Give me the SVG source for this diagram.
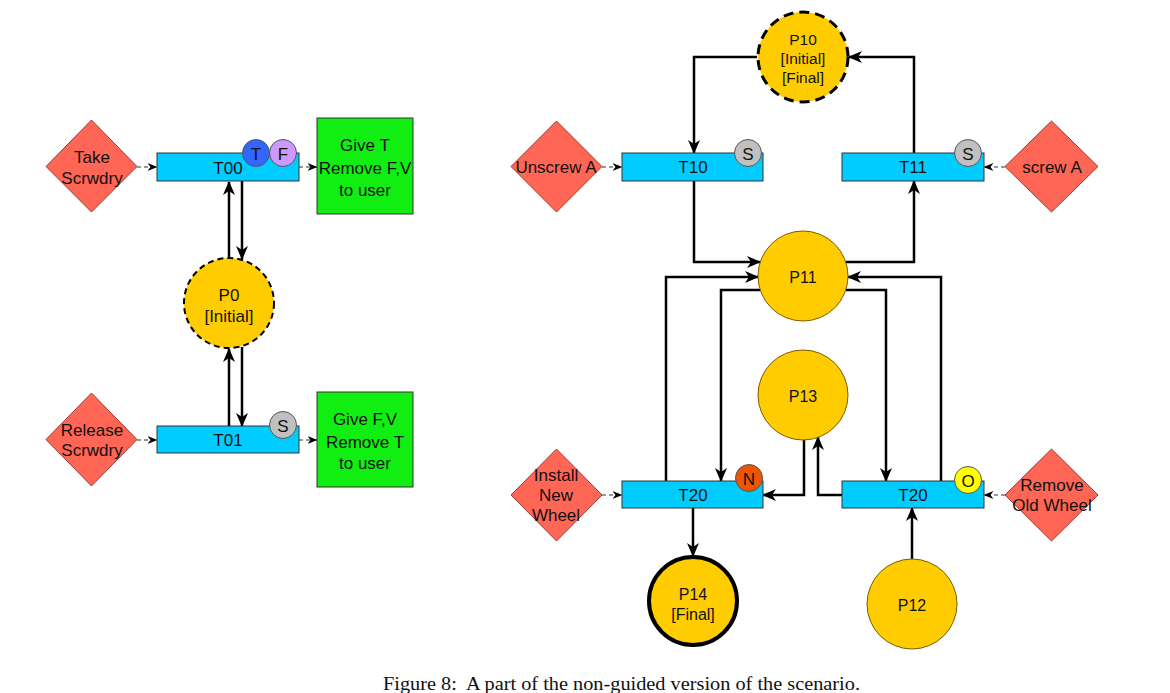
<svg xmlns="http://www.w3.org/2000/svg" width="1170" height="693" viewBox="0 0 1170 693">
<defs>
<marker id="ah" markerUnits="userSpaceOnUse" markerWidth="14" markerHeight="14" viewBox="0 0 14 14" refX="13" refY="7" orient="auto">
<path d="M0,1 L14,7 L0,13 L4,7 z" fill="#000"/>
</marker>
<marker id="ahs" markerUnits="userSpaceOnUse" markerWidth="10" markerHeight="10" viewBox="0 0 10 10" refX="9.5" refY="5" orient="auto">
<path d="M0,1 L10,5 L0,9 L3,5 z" fill="#000"/>
</marker>
</defs>
<style>
text{font-family:"Liberation Sans",Arial,sans-serif;fill:#111;text-anchor:middle;dominant-baseline:central}
.tr{fill:#00CCFF;stroke:#333;stroke-width:1}
.dm{fill:#FF6655;stroke:#9a3a30;stroke-width:1}
.gb{fill:#11EE11;stroke:#333;stroke-width:1}
.pl{fill:#FFCC00;stroke:#7a5c00;stroke-width:1}
.tk{stroke:#555;stroke-width:1}
.c{fill:none;stroke:#000;stroke-width:2.5;marker-end:url(#ah)}
.d{fill:none;stroke:#777;stroke-width:1.5;stroke-dasharray:4 3;marker-end:url(#ahs)}
.f17{font-size:17px}
.f16{font-size:16px}
.f15{font-size:15.5px}
.tt{font-size:17px}
</style>
<rect width="1170" height="693" fill="#fff"/>

<g id="connectors">
<line class="d" x1="137" y1="167" x2="157" y2="167"/>
<line class="d" x1="299" y1="167" x2="317" y2="167"/>
<line class="c" x1="229" y1="258" x2="229" y2="182"/>
<line class="c" x1="242" y1="181" x2="242" y2="259"/>
<line class="c" x1="229" y1="426" x2="229" y2="349"/>
<line class="c" x1="242" y1="347" x2="242" y2="426"/>
<line class="d" x1="137" y1="440" x2="157" y2="440"/>
<line class="d" x1="299" y1="440" x2="317" y2="440"/>

<path class="c" d="M757,57 H694 V153"/>
<path class="c" d="M914,153 V57 H849"/>
<line class="d" x1="602" y1="167" x2="622" y2="167"/>
<line class="d" x1="1005" y1="167" x2="984" y2="167"/>
<path class="c" d="M694,181 V262 H760"/>
<path class="c" d="M846,262 H914 V181"/>
<path class="c" d="M666,481 V277 H758"/>
<path class="c" d="M941,481 V277 H848"/>
<path class="c" d="M760,290 H721 V481"/>
<path class="c" d="M846,290 H886 V481"/>
<path class="c" d="M804,440 V495 H763"/>
<path class="c" d="M842,495 H818 V437"/>
<line class="d" x1="602" y1="495" x2="622" y2="495"/>
<line class="d" x1="1005" y1="495" x2="984" y2="495"/>
<line class="c" x1="693" y1="508" x2="693" y2="556"/>
<line class="c" x1="912" y1="559" x2="912" y2="508"/>
</g>

<g id="take">
<polygon class="dm" points="91.5,120 137,166.5 91.5,212 46,166.5"/>
<text class="f17" x="92" y="157">Take</text>
<text class="f17" x="92" y="178">Scrwdry</text>
</g>
<g id="T00">
<rect class="tr" x="157" y="153" width="142" height="28"/>
<text class="f17" x="228" y="168">T00</text>
<circle class="tk" cx="256" cy="153" r="13.5" fill="#3366FF"/>
<text class="tt" x="256" y="154">T</text>
<circle class="tk" cx="283" cy="153" r="13.5" fill="#CC99FF"/>
<text class="tt" x="283" y="154">F</text>
</g>
<g id="give1">
<rect class="gb" x="317" y="118" width="96" height="96"/>
<text class="f17" x="365" y="145">Give T</text>
<text class="f17" x="365" y="168">Remove F,V</text>
<text class="f17" x="365" y="190">to user</text>
</g>
<g id="P0">
<circle cx="229" cy="303" r="45" fill="#FFCC00" stroke="#000" stroke-width="2" stroke-dasharray="6 4"/>
<text class="f17" x="229" y="295">P0</text>
<text class="f17" x="229" y="316">[Initial]</text>
</g>
<g id="release">
<polygon class="dm" points="91.5,393 137,439.5 91.5,486 46,439.5"/>
<text class="f17" x="92" y="430">Release</text>
<text class="f17" x="92" y="450">Scrwdry</text>
</g>
<g id="T01">
<rect class="tr" x="157" y="426" width="142" height="27"/>
<text class="f17" x="228" y="440">T01</text>
<circle class="tk" cx="283" cy="425" r="13.5" fill="#C0C0C0"/>
<text class="tt" x="283" y="426">S</text>
</g>
<g id="give2">
<rect class="gb" x="317" y="392" width="96" height="95"/>
<text class="f17" x="365" y="419">Give F,V</text>
<text class="f17" x="365" y="442">Remove T</text>
<text class="f17" x="365" y="463">to user</text>
</g>

<g id="P10">
<circle cx="803" cy="57" r="45" fill="#FFCC00" stroke="#000" stroke-width="3" stroke-dasharray="10 6"/>
<text class="f15" x="803" y="39">P10</text>
<text class="f15" x="803" y="58">[Initial]</text>
<text class="f15" x="803" y="77">[Final]</text>
</g>
<g id="unscrew">
<polygon class="dm" points="556.5,121 602,166.5 556.5,212 511,166.5"/>
<text class="f17" x="556" y="167">Unscrew A</text>
</g>
<g id="T10">
<rect class="tr" x="622" y="153" width="141" height="28"/>
<text class="f17" x="693" y="167">T10</text>
<circle class="tk" cx="748" cy="153" r="13.5" fill="#C0C0C0"/>
<text class="tt" x="748" y="154">S</text>
</g>
<g id="T11">
<rect class="tr" x="842" y="153" width="142" height="28"/>
<text class="f17" x="913" y="167">T11</text>
<circle class="tk" cx="968" cy="153" r="13.5" fill="#C0C0C0"/>
<text class="tt" x="968" y="154">S</text>
</g>
<g id="screw">
<polygon class="dm" points="1051.5,121 1098,166.5 1051.5,212 1005,166.5"/>
<text class="f17" x="1052" y="167">screw A</text>
</g>
<g id="P11">
<circle class="pl" cx="803" cy="276" r="45"/>
<text class="f16" x="803" y="277">P11</text>
</g>
<g id="P13">
<circle class="pl" cx="803" cy="395" r="45"/>
<text class="f16" x="803" y="396">P13</text>
</g>
<g id="install">
<polygon class="dm" points="556.5,449 602,495 556.5,541 511,495"/>
<text class="f17" x="556" y="475">Install</text>
<text class="f17" x="556" y="495">New</text>
<text class="f17" x="556" y="515">Wheel</text>
</g>
<g id="T20a">
<rect class="tr" x="622" y="481" width="141" height="27"/>
<text class="f17" x="693" y="495">T20</text>
<circle class="tk" cx="749" cy="478" r="13.5" fill="#EE5500"/>
<text class="tt" x="749" y="479">N</text>
</g>
<g id="T20b">
<rect class="tr" x="842" y="481" width="142" height="27"/>
<text class="f17" x="913" y="495">T20</text>
<circle class="tk" cx="968" cy="480" r="13.5" fill="#FFFF00"/>
<text class="tt" x="968" y="481">O</text>
</g>
<g id="remove">
<polygon class="dm" points="1051.5,449 1098,495 1051.5,541 1005,495"/>
<text class="f17" x="1052" y="485">Remove</text>
<text class="f17" x="1052" y="505">Old Wheel</text>
</g>
<g id="P14">
<circle cx="693" cy="601" r="44" fill="#FFCC00" stroke="#000" stroke-width="4"/>
<text class="f16" x="693" y="594">P14</text>
<text class="f16" x="693" y="614">[Final]</text>
</g>
<g id="P12">
<circle class="pl" cx="912" cy="604" r="45"/>
<text class="f16" x="912" y="605">P12</text>
</g>

<text x="383" y="683" xml:space="preserve" style="font-family:'Liberation Serif','Times New Roman',serif;font-size:19px;text-anchor:start;white-space:pre" textLength="477" lengthAdjust="spacingAndGlyphs">Figure 8:  A part of the non-guided version of the scenario.</text>
</svg>
